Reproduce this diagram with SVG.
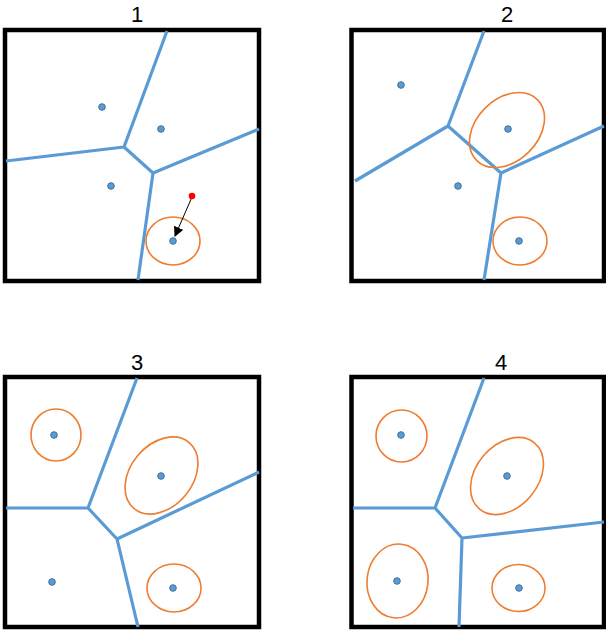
<svg xmlns="http://www.w3.org/2000/svg" width="606" height="630" viewBox="0 0 606 630">
<defs>
<style>
.box{fill:#fff;stroke:#000;stroke-width:4.5}
.edge{fill:none;stroke:#5B9BD5;stroke-width:3.2;stroke-linejoin:round;stroke-linecap:butt}
.site{fill:#5B9BD5;stroke:#41719C;stroke-width:1}
.zone{fill:none;stroke:#ED7D31;stroke-width:1.6}
.title{font-family:"Liberation Sans",Arial,sans-serif;font-size:22px;fill:#000;text-anchor:middle}
.move{stroke:#000;stroke-width:1;fill:none}
</style>
<marker id="ah" viewBox="0 0 10 10" refX="9" refY="5" markerWidth="10" markerHeight="10" markerUnits="userSpaceOnUse" orient="auto">
<path d="M0,0 L10,5 L0,10 z" fill="#000"/>
</marker>
</defs>
<rect width="606" height="630" fill="#fff"/>

<g id="panel1">
<text class="title" x="137" y="22">1</text>
<rect class="box" x="5" y="30" width="254" height="251"/>
<g id="edges1">
<path class="edge" d="M167,31 L124,147 L6,161 M124,147 L153,173 L259,129 M153,173 L138,280"/>
</g>
<g id="zones1"><ellipse class="zone" cx="173" cy="241" rx="27" ry="24"/></g>
<g id="sites1">
<circle class="site" cx="102" cy="107" r="3.3"/>
<circle class="site" cx="161" cy="129" r="3.3"/>
<circle class="site" cx="111" cy="186" r="3.3"/>
<circle class="site" cx="173" cy="241" r="3.3"/>
</g>
<g id="move1">
<line class="move" x1="192" y1="197" x2="175" y2="236" marker-end="url(#ah)"/>
<circle cx="192" cy="196" r="3.3" fill="#FF0000"/>
</g>
</g>

<g id="panel2">
<text class="title" x="507" y="22">2</text>
<rect class="box" x="351.5" y="30" width="252.5" height="251"/>
<g id="edges2">
<path class="edge" d="M484,31 L448,126 L355,181 M448,126 L501,173 L604,126 M501,173 L484,280"/>
</g>
<g id="zones2">
<ellipse class="zone" cx="507" cy="130" rx="43" ry="31" transform="rotate(-45 507 130)"/>
<ellipse class="zone" cx="520" cy="241" rx="27" ry="24"/>
</g>
<g id="sites2">
<circle class="site" cx="401" cy="85" r="3.3"/>
<circle class="site" cx="508" cy="129" r="3.3"/>
<circle class="site" cx="458" cy="186" r="3.3"/>
<circle class="site" cx="519" cy="241" r="3.3"/>
</g>
</g>

<g id="panel3">
<text class="title" x="137" y="370">3</text>
<rect class="box" x="5" y="377" width="254" height="250"/>
<g id="edges3">
<path class="edge" d="M137,378 L88,508 L6,508 M88,508 L117,539 L259,472 M117,539 L138,627"/>
</g>
<g id="zones3">
<ellipse class="zone" cx="56" cy="435" rx="25" ry="26"/>
<ellipse class="zone" cx="161.5" cy="475.5" rx="43" ry="31" transform="rotate(-50 161.5 475.5)"/>
<ellipse class="zone" cx="174" cy="588" rx="27" ry="24"/>
</g>
<g id="sites3">
<circle class="site" cx="54" cy="435" r="3.3"/>
<circle class="site" cx="161" cy="476" r="3.3"/>
<circle class="site" cx="52" cy="582" r="3.3"/>
<circle class="site" cx="173" cy="588" r="3.3"/>
</g>
</g>

<g id="panel4">
<text class="title" x="501" y="370">4</text>
<rect class="box" x="351.5" y="377" width="252.5" height="250"/>
<g id="edges4">
<path class="edge" d="M484,378 L435,508 L353,508 M435,508 L462,538 L604,522 M462,538 L459,627"/>
</g>
<g id="zones4">
<ellipse class="zone" cx="401.5" cy="436" rx="25.5" ry="26"/>
<ellipse class="zone" cx="507" cy="476" rx="43" ry="31" transform="rotate(-50 507 476)"/>
<ellipse class="zone" cx="397.5" cy="581" rx="30.5" ry="37" transform="rotate(6 397.5 581)"/>
<ellipse class="zone" cx="518.5" cy="588" rx="26.5" ry="23.5"/>
</g>
<g id="sites4">
<circle class="site" cx="401" cy="435" r="3.3"/>
<circle class="site" cx="507" cy="476" r="3.3"/>
<circle class="site" cx="397" cy="581" r="3.3"/>
<circle class="site" cx="519" cy="588" r="3.3"/>
</g>
</g>
</svg>
